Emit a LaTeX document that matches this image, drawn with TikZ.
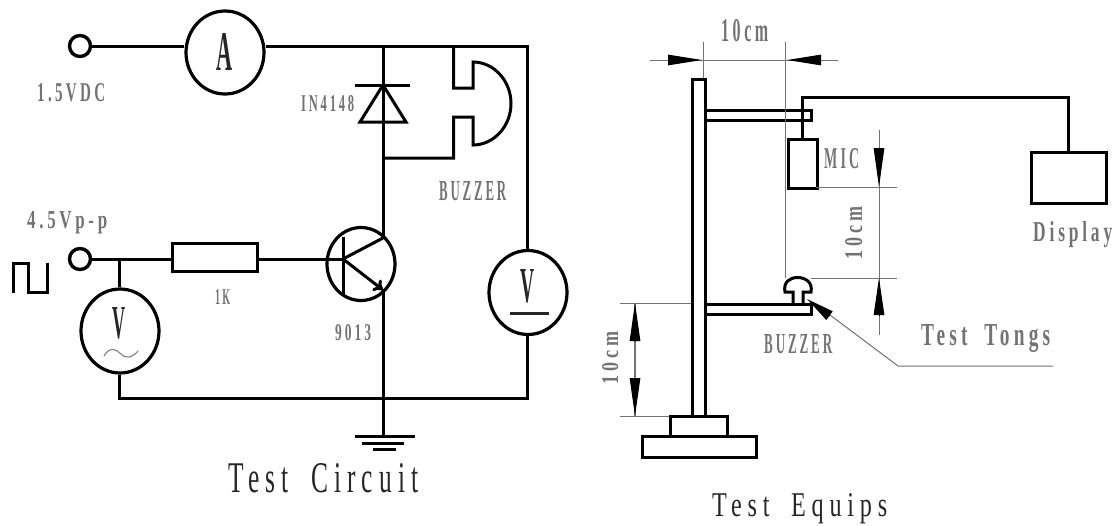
\documentclass[tikz,border=0pt]{standalone}
\usepackage{fontspec}
\usepackage{graphicx}
\setmainfont{Liberation Serif}
\newfontfamily\spaced[LetterSpace=24]{Liberation Serif}
\newfontfamily\spacedb[LetterSpace=22]{Liberation Serif Bold}
\usetikzlibrary{arrows.meta,shapes.geometric}
\newcommand{\tx}[3]{\resizebox{#1pt}{#2pt}{\spacedb #3}}
\newcommand{\txb}[3]{\resizebox{#1pt}{#2pt}{\spaced #3}}
\tikzset{
  wire/.style={line width=3pt,line join=miter,black},
  thinl/.style={line width=1pt,color=black!55},
  meter/.style={draw,ellipse,line width=3.2pt,inner sep=0pt,minimum width=78pt,minimum height=84pt},
  term/.style={draw,circle,line width=3.4pt,inner sep=0pt,minimum size=21pt},
  box/.style={draw,rectangle,line width=3pt,inner sep=0pt},
  lab/.style={anchor=base west,inner sep=0pt,text=black!55},
  biglab/.style={anchor=base west,inner sep=0pt,text=black!85},
  meterlab/.style={anchor=base west,inner sep=0pt,text=black!85},
  dimtip/.style={-{Triangle[length=#1,width=10.5pt]},line width=1pt,black},
}
\begin{document}
\begin{tikzpicture}[x=1pt,y=-1pt]
\useasboundingbox (0,0) rectangle (1114,525);
% ---------- circuit ----------
\node[term] (t1) at (80,46) {};
\node[term] (t2) at (80,259) {};
\node[meter,minimum width=78pt,minimum height=83pt] (A) at (225,52.5) {};
\node[meter] (Vl) at (120,331) {};
\node[meter] (Vr) at (528,292.5) {};
\node[box,minimum width=85pt,minimum height=28pt] (R) at (214.5,257) {};
\node[draw,ellipse,line width=3.2pt,inner sep=0pt,minimum width=68pt,minimum height=73pt] (Q) at (361,264) {};
\coordinate (j1) at (383,46);
\coordinate (trc) at (527,46);
\coordinate (brc) at (527,398);
\coordinate (blc) at (119,398);
\coordinate (jV) at (119,259);
\coordinate (gnd) at (383,436);
\coordinate (jb) at (383,398);
\coordinate (jbz) at (383,158);
\coordinate (B) at (343,259);
\coordinate (C) at (383,238);
\coordinate (E) at (383,290);
\draw[wire] (t1.east) -- (A.west |- t1.east);
\draw[wire] (A.east |- t1.east) -- (trc) -- (Vr.north -| trc);
\draw[wire] (Vr.south -| trc) -- (brc) -- (blc) -- (Vl.south -| blc);
\draw[wire] (t2.east) -- (R.west |- t2.east);
\draw[wire] (R.east |- t2.east) -- (B);
\draw[wire] (jV) -- (Vl.north -| jV);
\draw[wire] (j1) -- (C);
\draw[wire] (E) -- (gnd);
% transistor
\draw[wire] (343,237) -- (343,295);
\draw[wire] (B) -- (C);
\draw[wire,-{To[length=9pt,width=14pt]}] (B) -- (E);
% diode
\draw[wire] (355,85) -- (410,85);
\draw[wire] (383,85) -- (360,122) -- (406,122) -- cycle;
% buzzer
\draw[wire] (jbz) -- (453.5,158) -- (453.5,117) -- (473,117) -- (473,145)
  .. controls (494,145) and (511,126) .. (511,103.5)
  .. controls (511,81) and (494,62) .. (473,62)
  -- (473,88) -- (453.5,88) -- (453.5,46);
% ground
\draw[wire] (355,436) -- (415,436);
\draw[wire] (362,443) -- (404,443);
\draw[wire] (373,449) -- (396,449);
% square wave
\draw[wire] (13,293) -- (13,263) -- (28.5,263) -- (28.5,292) -- (47,292) -- (47,263);
% meter marks
\draw[line width=1.1pt,color=black!50] (104,356) .. controls (110,346) and (116,349) .. (121,354) .. controls (126,359) and (132,358) .. (138,351);
\draw[line width=2.6pt,color=black!85] (510,313.5) -- (549,313.5);
% circuit labels
\node[meterlab] (lA) at (216,70.5) {\resizebox{16pt}{37pt}{\bfseries A}};
\node[meterlab] (lVl) at (112,338) {\resizebox{13pt}{31pt}{\bfseries V}};
\node[meterlab] (lVr) at (520,302) {\resizebox{14pt}{33pt}{\bfseries V}};
\node[lab] (l15) at (37,101) {\tx{68}{18}{1.5VDC}};
\node[lab] (l45) at (27,228) {\tx{80}{17}{4.5Vp-p}};
\node[lab] (lIN) at (301,111) {\tx{53}{16}{IN4148}};
\node[lab] (lBz) at (439,200) {\tx{67}{19}{BUZZER}};
\node[lab] (l1K) at (215,304) {\tx{15}{15}{1K}};
\node[lab] (l90) at (335,340) {\tx{36}{16}{9013}};
\node[biglab] (lTC) at (228,492) {\txb{190}{29}{Test\hspace{0.4em} Circuit}};
% ---------- equipment ----------
\node[box,anchor=north west,minimum width=12.5pt,minimum height=337pt] (pole) at (691,78) {};
\node[box,anchor=north west,minimum width=57pt,minimum height=20pt] (base1) at (669,415) {};
\node[box,anchor=north west,minimum width=114pt,minimum height=21pt] (base2) at (641,435) {};
\node[box,anchor=north west,minimum width=106pt,minimum height=9.5pt] (arm1) at (704,109) {};
\node[box,anchor=north west,minimum width=106pt,minimum height=10pt] (arm2) at (704,303) {};
\node[box,anchor=north west,minimum width=29pt,minimum height=49pt] (mic) at (787,138) {};
\node[box,anchor=north west,minimum width=75pt,minimum height=51pt] (disp) at (1030,151) {};
\coordinate (w1) at (802,97.5);
\coordinate (w2) at (1068,97.5);
\draw[wire] (mic.north -| w1) -- (w1) -- (w2) -- (disp.north -| w2);
% mushroom
\draw[wire] (793,303) -- (793,292) -- (785,292) .. controls (783,282) and (790,277.5) .. (797.5,277.5)
  .. controls (805,277.5) and (813,282) .. (811,292) -- (803,292) -- (803,303);
% dimension lines
\coordinate (dT1) at (650,60);
\coordinate (dT2) at (838,60);
\draw[thinl] (dT1) -- (dT2);
\draw[thinl] (703.5,42) -- (703.5,78);
\draw[thinl] (785.5,42) -- (785.5,278);
\draw[dimtip=34pt] (668,60) -- (702,60);
\draw[dimtip=34pt] (820,60) -- (787,60);
\draw[thinl] (816,187) -- (897,187);
\draw[thinl] (811,278) -- (897,278);
\draw[thinl] (879,130) -- (879,335);
\draw[dimtip=39pt] (879,148) -- (879,187);
\draw[dimtip=37pt] (879,315) -- (879,278);
\draw[thinl] (620,303) -- (691,303);
\draw[thinl] (620,416) -- (669,416);
\draw[thinl,line width=1.6pt] (635,303) -- (635,416);
\draw[dimtip=38pt] (635,341) -- (635,303);
\draw[dimtip=38pt] (635,378) -- (635,416);
\coordinate (ldr1) at (898,366);
\coordinate (ldr2) at (1053,366);
\draw[thinl] (830,315) -- (ldr1) -- (ldr2);
\draw[dimtip=28pt] (830,316) -- (807,299);
% equipment labels
\node[lab] (l10a) at (721,41) {\tx{47}{22}{10cm}};
\node[lab,rotate=90] (l10b) at (862,260) {\tx{53}{17}{10cm}};
\node[lab,rotate=90] (l10c) at (618,385) {\tx{53}{16}{10cm}};
\node[lab] (lMIC) at (824,168) {\tx{35}{20}{MIC}};
\node[lab] (lDisp) at (1033,241) {\tx{79}{20}{Display}};
\node[lab] (lBz2) at (764,353) {\tx{68}{19}{BUZZER}};
\node[lab] (lTT) at (921,345) {\tx{129}{21}{Test\hspace{0.4em} Tongs}};
\node[biglab] (lTE) at (712,516) {\txb{175}{23}{Test\hspace{0.4em} Equips}};
\end{tikzpicture}
\end{document}
